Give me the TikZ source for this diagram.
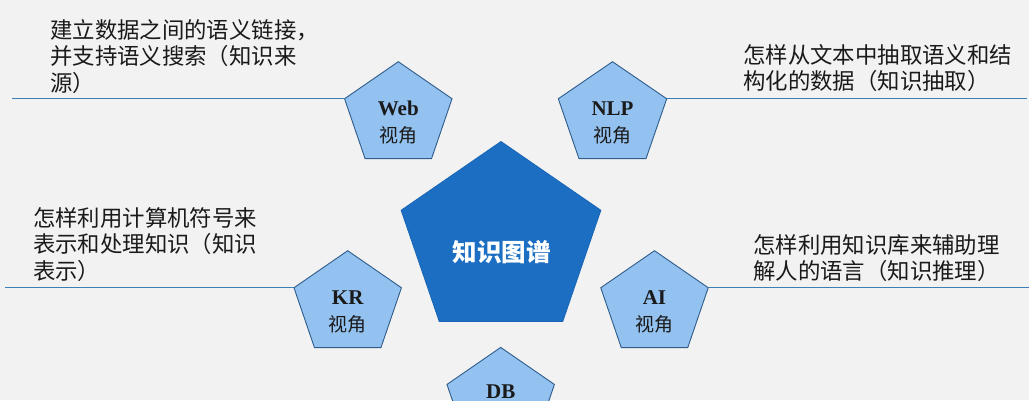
\documentclass[tikz,border=0pt]{standalone}
\usepackage{fontspec}
\setmainfont{Liberation Serif}
\newfontfamily\cjk{Noto Sans CJK SC}
\usetikzlibrary{calc}
\definecolor{bgc}{HTML}{F2F2F2}
\definecolor{smallfill}{HTML}{93C2F0}
\definecolor{smalledge}{HTML}{2F5C8A}
\definecolor{bigfill}{HTML}{1C6EC3}
\definecolor{bigedge}{HTML}{1966B6}
\definecolor{guidec}{HTML}{3F7DB9}
\definecolor{txt}{HTML}{1A1A1A}
\newcommand\mypent[6]{%
  \coordinate (#1-c) at (#2,#3);
  \coordinate (#1-t) at (#2,{#3-#5});
  \coordinate (#1-l) at ({#2-0.951*#4},{#3-0.309*#5});
  \coordinate (#1-bl) at ({#2-0.588*#4},{#3+0.809*#5});
  \coordinate (#1-br) at ({#2+0.588*#4},{#3+0.809*#5});
  \coordinate (#1-r) at ({#2+0.951*#4},{#3-0.309*#5});
  \path[#6] (#1-t) -- (#1-l) -- (#1-bl) -- (#1-br) -- (#1-r) -- cycle;
}
\tikzset{
  smallpent/.style={fill=smallfill,draw=smalledge,line width=0.9pt,line join=miter},
  bigpent/.style={fill=bigfill,draw=bigedge,line width=0.8pt,line join=miter},
  guide/.style={draw=guidec,line width=1.5pt},
  title/.style={inner sep=0pt,font=\fontsize{21}{24}\selectfont\bfseries,text=txt},
  view/.style={inner sep=0pt,font=\cjk\fontsize{19}{22}\selectfont,text=txt},
  desc/.style={inner sep=0pt,anchor=north west,align=left,text=txt,
    font=\cjk\fontsize{22.4}{26.6}\selectfont},
  kgtext/.style={inner sep=0pt,text=white,font=\cjk\bfseries\fontsize{24.5}{28}\selectfont}
}
\begin{document}
\begin{tikzpicture}[x=1pt,y=-1pt]
\path[fill=bgc] (0,0) rectangle (1029,400);
\useasboundingbox (0,0) rectangle (1029,400);
\clip (0,0) rectangle (1029,400);

\coordinate (leftA) at (12,0);
\coordinate (leftB) at (5,0);
\coordinate (rightA) at (1027,0);
\coordinate (rightB) at (1029,0);

\mypent{web}{398.3}{115.3}{56.5}{53.6}{smallpent}
\mypent{nlp}{612.5}{115.3}{57}{53.6}{smallpent}
\mypent{kr}{347.7}{304.3}{56.5}{53.6}{smallpent}
\mypent{ai}{654.5}{304.3}{56.5}{53.6}{smallpent}
\mypent{db}{500.7}{401}{56.5}{53.6}{smallpent}
\mypent{kg}{501}{241}{105}{99.5}{bigpent}

\draw[guide] (web-l) -- (web-l -| leftA);
\draw[guide] (nlp-r) -- (nlp-r -| rightA);
\draw[guide] (kr-l) -- (kr-l -| leftB);
\draw[guide] (ai-r) -- (ai-r -| rightB);

\node[kgtext] (kgT) at (501.7,251.7) {知识图谱};

\node[title] (webT) at ($(web-c)+(0,-7)$) {Web};
\node[view] (webV) at ($(web-c)+(0,20)$) {视角};
\node[title] (nlpT) at ($(nlp-c)+(0,-7)$) {NLP};
\node[view] (nlpV) at ($(nlp-c)+(0,20)$) {视角};
\node[title] (krT) at ($(kr-c)+(0,-7)$) {KR};
\node[view] (krV) at ($(kr-c)+(0,20)$) {视角};
\node[title] (aiT) at ($(ai-c)+(0,-7)$) {AI};
\node[view] (aiV) at ($(ai-c)+(0,20)$) {视角};
\node[title] (dbT) at ($(db-c)+(0,-9.5)$) {DB};

\node[desc] (webD) at (50,19) {建立数据之间的语义链接，\\并支持语义搜索（知识来\\源）};
\node[desc] (nlpD) at (743,44) {怎样从文本中抽取语义和结\\构化的数据（知识抽取）};
\node[desc] (krD) at (33,207) {怎样利用计算机符号来\\表示和处理知识（知识\\表示）};
\node[desc] (aiD) at (753,234) {怎样利用知识库来辅助理\\解人的语言（知识推理）};
\end{tikzpicture}
\end{document}
